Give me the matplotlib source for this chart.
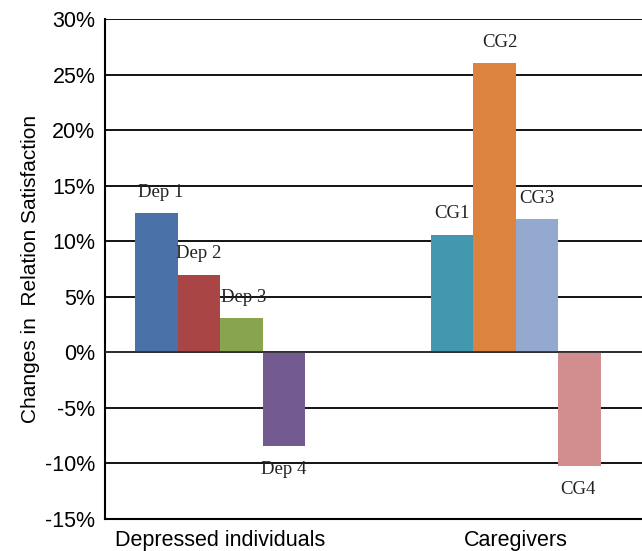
import numpy as np
import matplotlib.pyplot as plt

# Change in relation satisfaction per subgroup
groups = ["Depressed individuals", "Caregivers"]
dep_labels = ["Dep 1", "Dep 2", "Dep 3", "Dep 4"]
dep_values = [12.5, 7.0, 3.1, -8.4]
cg_labels = ["CG1", "CG2", "CG3", "CG4"]
cg_values = [10.6, 26.0, 12.0, -10.2]
dep_colors = ["#4A71A8", "#A94545", "#89A44E", "#735A91"]
cg_colors = ["#4398AF", "#DB833F", "#94A9D0", "#D28E8E"]
yticks = [-15, -10, -5, 0, 5, 10, 15, 20, 25, 30]

fig = plt.figure(figsize=(6.42, 5.51), dpi=100)
ax = fig.add_axes([0.1636, 0.058, 0.8364, 0.9075])

width = 0.1436
offsets = (np.arange(4) - 1.5) * width
# small horizontal nudges for the bar captions (points)
nudge = [[3, 0, 2, 0], [0, 4, 0, -1]]

for gi, (labels, values, colors) in enumerate(
        [(dep_labels, dep_values, dep_colors), (cg_labels, cg_values, cg_colors)]):
    xs = gi + offsets
    ax.bar(xs, values, width=width, color=colors, zorder=3)
    for x, v, lab, dx in zip(xs, values, labels, nudge[gi]):
        dy = 15 if v >= 0 else -17
        ax.annotate(lab, (x, v), xytext=(dx, dy), textcoords="offset points",
                    ha="center", va="center", fontsize=13.5,
                    family="Liberation Serif", color="#222222", zorder=4)

ax.axhline(0, color="#333333", lw=1.3, zorder=4)

ax.set_xlim(-0.389, 1.426)
ax.set_ylim(-15, 30)
ax.set_yticks(yticks)
ax.set_yticklabels([f"{t}%" for t in yticks], family="Liberation Sans", fontsize=15.5)
ax.set_xticks([0, 1])
ax.set_xticklabels(groups, family="Liberation Sans", fontsize=15.5)
ax.tick_params(length=0, pad=7)
ax.tick_params(axis="x", pad=8)

ax.yaxis.grid(True, color="black", lw=1.3, zorder=0)
ax.set_axisbelow(True)
for s in ["top", "right"]:
    ax.spines[s].set_visible(False)
ax.spines["left"].set_linewidth(1.5)
ax.spines["bottom"].set_linewidth(1.5)

ax.set_ylabel("Changes in  Relation Satisfaction", family="Liberation Sans",
              fontsize=15, labelpad=4)

fig.savefig("out.png", dpi=100)
